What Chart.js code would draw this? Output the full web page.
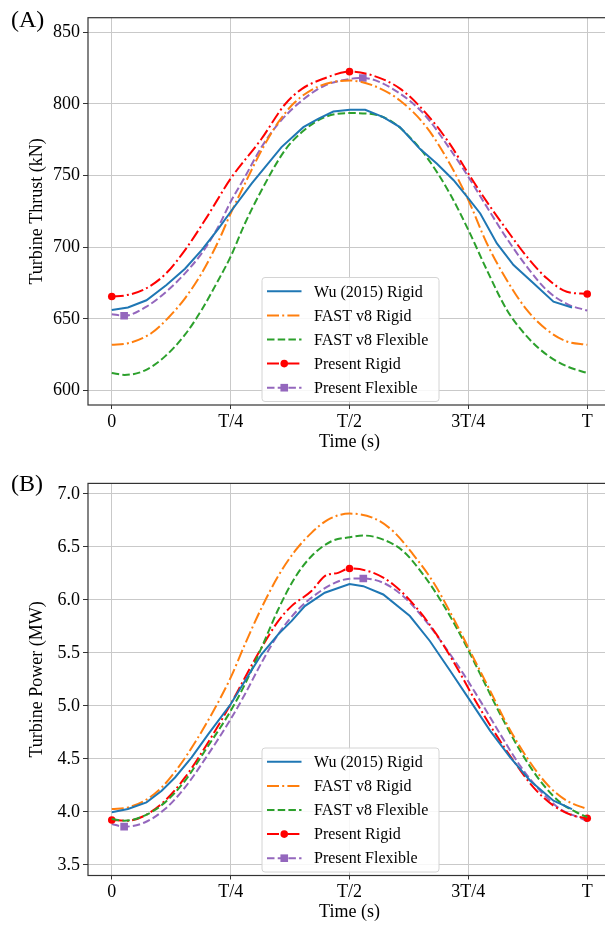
<!DOCTYPE html>
<html>
<head>
<meta charset="utf-8">
<script src="https://cdn.jsdelivr.net/npm/chart.js@4/dist/chart.umd.min.js"></script>
<style>
html,body{margin:0;padding:0;background:#fff;overflow:hidden;width:605px;height:926px;}
canvas{position:absolute;left:0;}
.plabel{position:absolute;left:11px;font-family:"Liberation Serif","DejaVu Serif",serif;font-size:24px;line-height:24px;color:#000;}
</style>
</head>
<body>
<canvas id="cA" width="615" height="460" style="top:0px"></canvas>
<canvas id="cB" width="615" height="464" style="top:462px"></canvas>
<div class="plabel" style="top:7px">(A)</div>
<div class="plabel" style="top:471px">(B)</div>
<script>
// ---------- DATA ----------
const xTickValues = [0, 0.25, 0.5, 0.75, 1];
const xTickLabels = ['0', 'T/4', 'T/2', '3T/4', 'T'];
const thrustTicks = [600, 650, 700, 750, 800, 850];
const powerTicks = [3.5, 4.0, 4.5, 5.0, 5.5, 6.0, 6.5, 7.0];
const seriesNames = ['Wu (2015) Rigid', 'FAST v8 Rigid', 'FAST v8 Flexible', 'Present Rigid', 'Present Flexible'];

// (A) Turbine thrust, kN ; time as fraction of T
const thrustWuT = [0,0.034,0.073,0.115,0.154,0.189,0.224,0.25,0.294,0.357,0.403,0.434,0.466,0.501,0.533,0.571,0.606,0.648,0.684,0.719,0.75,0.775,0.81,0.845,0.887,0.929,0.968];
const thrustWu  = [656.3,658,663,673.7,685,698,712.8,724.7,744.3,769.8,783.7,789.5,794.6,795.8,795.8,790.7,783.7,768.6,758.2,746.7,734,723.5,702.6,687.6,674.8,662,658];

const thrustFastRigidT = [0,0.034,0.083,0.118,0.154,0.189,0.224,0.25,0.28,0.315,0.35,0.385,0.434,0.5,0.55,0.606,0.662,0.711,0.75,0.789,0.831,0.873,0.915,0.957,1.0];
const thrustFastRigid  = [632,633,640,650.5,664.4,681.8,704,723.5,744.3,767.5,787,801,812,816.2,812.7,802.3,783.7,758.2,732.8,702.6,677,656.3,642.4,634.3,632];

const thrustFastFlexT = [0,0.027,0.069,0.112,0.154,0.189,0.224,0.25,0.28,0.315,0.364,0.4,0.448,0.5,0.543,0.585,0.62,0.662,0.711,0.75,0.789,0.831,0.873,0.915,0.957,1.0];
const thrustFastFlex  = [612.3,611,614,623.9,639,656.3,677,693.4,716.5,739.7,767.5,780.3,790.7,793.5,793,788.4,779,763,737.4,712,684,656.3,637.8,625,617,612.3];

const thrustPresRigidT = [0,0.03,0.069,0.112,0.154,0.2,0.25,0.315,0.364,0.4,0.448,0.5,0.55,0.607,0.662,0.711,0.75,0.789,0.831,0.873,0.915,0.957,1.0];
const thrustPresRigid  = [665.6,666.5,670.7,681,698,721,747.8,775.6,799.5,810.4,817.8,822.4,819.6,810.4,793,772,751.3,731.6,712,693.4,678.3,669,667.4];

const thrustPresFlexT = [0,0.026,0.073,0.118,0.154,0.189,0.224,0.25,0.28,0.315,0.35,0.4,0.448,0.5,0.528,0.585,0.656,0.711,0.75,0.789,0.831,0.873,0.915,0.957,1.0];
const thrustPresFlex  = [653.3,652.2,658.6,670,681.8,695.7,714.2,731.6,749,769.8,786,802.3,812.7,817.3,818,811.5,793,768.6,749,728,706,686.4,670,660.5,655.8];

// (B) Turbine power, MW
const powerWuT = [0,0.034,0.073,0.105,0.133,0.168,0.203,0.25,0.28,0.315,0.35,0.378,0.406,0.448,0.5,0.529,0.571,0.627,0.669,0.712,0.754,0.796,0.838,0.88,0.929,0.968];
const powerWu  = [3.996,4.027,4.09,4.2,4.325,4.514,4.734,5.016,5.236,5.487,5.675,5.8,5.942,6.068,6.15,6.13,6.052,5.848,5.613,5.33,5.048,4.765,4.514,4.294,4.106,4.027];

const powerFastRigidT = [0,0.034,0.069,0.105,0.14,0.175,0.21,0.25,0.28,0.315,0.35,0.385,0.42,0.455,0.5,0.55,0.592,0.634,0.677,0.718,0.757,0.796,0.831,0.873,0.915,0.957,1.0];
const powerFastRigid  = [4.027,4.043,4.106,4.231,4.42,4.655,4.922,5.267,5.581,5.926,6.225,6.46,6.633,6.758,6.815,6.774,6.648,6.429,6.162,5.832,5.487,5.142,4.828,4.514,4.263,4.106,4.027];

const powerFastFlexT = [0,0.027,0.069,0.112,0.154,0.196,0.25,0.28,0.315,0.35,0.385,0.42,0.462,0.5,0.529,0.571,0.613,0.655,0.697,0.74,0.775,0.817,0.859,0.901,0.943,0.985,1.0];
const powerFastFlex  = [3.933,3.917,3.965,4.09,4.294,4.577,4.953,5.204,5.55,5.91,6.209,6.413,6.554,6.592,6.608,6.57,6.46,6.24,5.958,5.613,5.3,4.922,4.577,4.294,4.09,3.98,3.95];

const powerPresRigidT = [0,0.034,0.069,0.112,0.154,0.196,0.25,0.28,0.315,0.35,0.378,0.42,0.448,0.476,0.5,0.55,0.592,0.641,0.683,0.726,0.761,0.803,0.845,0.887,0.929,0.971,1.0];
const powerPresRigid  = [3.924,3.917,3.965,4.106,4.325,4.608,5.016,5.267,5.55,5.8,5.942,6.084,6.225,6.256,6.297,6.256,6.146,5.926,5.675,5.361,5.079,4.765,4.483,4.231,4.059,3.965,3.94];

const powerPresFlexT = [0,0.026,0.069,0.112,0.154,0.196,0.25,0.28,0.315,0.35,0.392,0.434,0.469,0.5,0.529,0.571,0.613,0.655,0.697,0.74,0.775,0.817,0.859,0.901,0.943,0.985,1.0];
const powerPresFlex  = [3.886,3.861,3.9,4.027,4.231,4.498,4.875,5.11,5.408,5.675,5.91,6.068,6.162,6.2,6.203,6.162,6.036,5.832,5.581,5.3,5.048,4.734,4.435,4.2,4.027,3.943,3.911];

// marker times (markevery)
const presRigidMarkT = [0, 0.5, 1.0];
const thrustPresFlexMarkT = [0.026, 0.528];
const powerPresFlexMarkT = [0.026, 0.529];

// ---------- STYLE ----------
const FONT = '"Liberation Serif", "DejaVu Serif", serif';
const COLORS = ['#1f77b4', '#ff7f0e', '#2ca02c', '#ff0000', '#9467bd'];
const DASH = [7.5, 3.2];
const DASHDOT = [12, 3.2, 2, 3.2];

function pts(t, v) { return t.map((x, i) => ({x: x, y: v[i]})); }

function makeDatasets(series, markRed, markPurple) {
  const styles = [
    {dash: [], mode: 'default', tension: 0},
    {dash: DASHDOT, mode: 'monotone'},
    {dash: DASH, mode: 'monotone'},
    {dash: DASHDOT, mode: 'monotone', marker: 'circle', r: 3.8, marks: markRed},
    {dash: DASH, mode: 'monotone', marker: 'rect', r: 5.4, marks: markPurple}
  ];
  return series.map((s, i) => {
    const st = styles[i];
    const ds = {
      label: seriesNames[i],
      data: pts(s[0], s[1]),
      borderColor: COLORS[i],
      backgroundColor: COLORS[i],
      borderWidth: 2,
      borderDash: st.dash,
      cubicInterpolationMode: st.mode,
      tension: st.tension || 0,
      fill: false,
      pointStyle: st.marker || 'circle',
      pointRadius: 0,
      pointBorderWidth: 0,
      legendMarker: st.marker || null,
      legendRadius: st.r || 0
    };
    if (st.marker) {
      const marks = st.marks;
      ds.pointRadius = ctx => (ctx.raw && marks.includes(ctx.raw.x)) ? st.r : 0;
      ds.pointBackgroundColor = COLORS[i];
      ds.pointBorderColor = COLORS[i];
    }
    return ds;
  });
}

const framePlugin = {
  id: 'frameBox',
  afterDatasetsDraw(chart) {
    const {ctx, chartArea: a} = chart;
    ctx.save();
    ctx.strokeStyle = '#333';
    ctx.lineWidth = 1.2;
    ctx.strokeRect(a.left, a.top, a.right - a.left, a.bottom - a.top);
    ctx.restore();
  }
};

const legendPlugin = {
  id: 'boxLegend',
  afterDraw(chart) {
    const ctx = chart.ctx, a = chart.chartArea;
    const w = 177, h = 124, r = 3;
    const left = 262;
    const top = a.bottom - 3.5 - h;
    ctx.save();
    ctx.beginPath();
    ctx.moveTo(left + r, top);
    ctx.lineTo(left + w - r, top);
    ctx.arcTo(left + w, top, left + w, top + r, r);
    ctx.lineTo(left + w, top + h - r);
    ctx.arcTo(left + w, top + h, left + w - r, top + h, r);
    ctx.lineTo(left + r, top + h);
    ctx.arcTo(left, top + h, left, top + h - r, r);
    ctx.lineTo(left, top + r);
    ctx.arcTo(left, top, left + r, top, r);
    ctx.closePath();
    ctx.fillStyle = 'rgba(255,255,255,0.85)';
    ctx.fill();
    ctx.strokeStyle = '#d4d4d4';
    ctx.lineWidth = 1;
    ctx.stroke();
    chart.data.datasets.forEach((ds, i) => {
      const y = top + 13.8 + i * 24.1;
      ctx.beginPath();
      ctx.setLineDash(ds.borderDash || []);
      ctx.strokeStyle = ds.borderColor;
      ctx.lineWidth = ds.borderWidth;
      ctx.moveTo(left + 5, y);
      ctx.lineTo(left + 39.5, y);
      ctx.stroke();
      ctx.setLineDash([]);
      if (ds.legendMarker) {
        ctx.fillStyle = ds.borderColor;
        ctx.beginPath();
        const cx = left + 22.25;
        if (ds.legendMarker === 'circle') {
          ctx.arc(cx, y, ds.legendRadius, 0, Math.PI * 2);
        } else {
          const s = ds.legendRadius * Math.SQRT1_2;
          ctx.rect(cx - s, y - s, 2 * s, 2 * s);
        }
        ctx.fill();
      }
      ctx.fillStyle = '#000';
      ctx.font = '16px ' + FONT;
      ctx.textBaseline = 'middle';
      ctx.textAlign = 'left';
      ctx.fillText(ds.label, left + 52, y + 1);
    });
    ctx.restore();
  }
};

function makeChart(id, series, yMin, yMax, yTicks, yTitle, yFmt, padTop, padBottom, markRed, markPurple) {
  return new Chart(document.getElementById(id), {
    type: 'line',
    data: {datasets: makeDatasets(series, markRed, markPurple)},
    plugins: [framePlugin, legendPlugin],
    options: {
      responsive: false,
      animation: false,
      events: [],
      layout: {padding: {left: 0, right: 0, top: padTop, bottom: padBottom}},
      plugins: {legend: {display: false}, tooltip: {enabled: false}, title: {display: false}},
      scales: {
        x: {
          type: 'linear',
          min: -0.05, max: 1.05,
          afterBuildTicks: s => { s.ticks = xTickValues.map(v => ({value: v})); },
          afterFit: s => { s.height = 47.8; },
          ticks: {
            autoSkip: false, maxRotation: 0, padding: 2, color: '#000',
            font: {family: FONT, size: 18},
            callback: v => xTickLabels[xTickValues.indexOf(v)]
          },
          grid: {color: '#c9c9c9', lineWidth: 1, drawTicks: true, tickLength: 4, tickColor: '#333', tickWidth: 1},
          border: {display: false},
          title: {display: true, text: 'Time (s)', color: '#000', font: {family: FONT, size: 18}, padding: {top: 0, bottom: 0}}
        },
        y: {
          type: 'linear',
          min: yMin, max: yMax,
          afterBuildTicks: s => { s.ticks = yTicks.map(v => ({value: v})); },
          afterFit: s => { s.width = 88; },
          ticks: {
            padding: 3, color: '#000',
            font: {family: FONT, size: 18},
            callback: yFmt
          },
          grid: {color: '#c9c9c9', lineWidth: 1, drawTicks: true, tickLength: 5, tickColor: '#333', tickWidth: 1},
          border: {display: false},
          title: {display: true, text: yTitle, color: '#000', font: {family: FONT, size: 18}, padding: {top: 26, bottom: 0}}
        }
      }
    }
  });
}

makeChart('cA',
  [[thrustWuT, thrustWu], [thrustFastRigidT, thrustFastRigid], [thrustFastFlexT, thrustFastFlex],
   [thrustPresRigidT, thrustPresRigid], [thrustPresFlexT, thrustPresFlex]],
  590, 860, thrustTicks, 'Turbine Thrust (kN)', v => String(v), 17.7, 7.2,
  presRigidMarkT, thrustPresFlexMarkT);

makeChart('cB',
  [[powerWuT, powerWu], [powerFastRigidT, powerFastRigid], [powerFastFlexT, powerFastFlex],
   [powerPresRigidT, powerPresRigid], [powerPresFlexT, powerPresFlex]],
  3.4, 7.1, powerTicks, 'Turbine Power (MW)', v => Number(v).toFixed(1), 21.4, 2.7,
  presRigidMarkT, powerPresFlexMarkT);
</script>
</body>
</html>
